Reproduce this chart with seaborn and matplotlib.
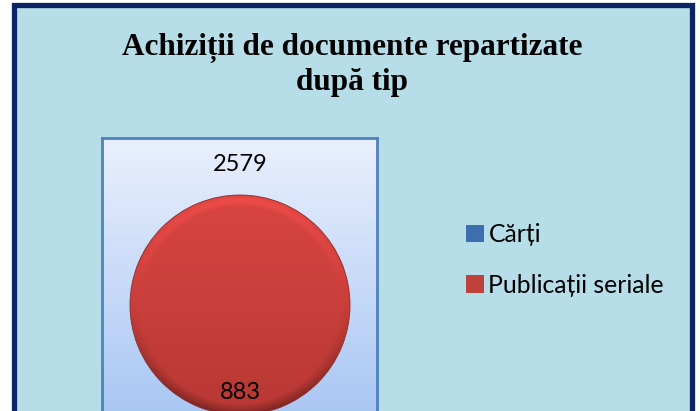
import numpy as np
import matplotlib
matplotlib.use("Agg")
import matplotlib.pyplot as plt
from matplotlib.patches import Rectangle
import seaborn as sns

# ---- data ----
categories = ["Cărți", "Publicații seriale"]
values = [2579, 883]
title = "Achiziții de documente repartizate\ndupă tip"

sns.set_theme(style="white")
plt.rcParams['font.family'] = ['Lato', 'DejaVu Sans']

W, H = 700, 411
fig = plt.figure(figsize=(W / 100, H / 100), dpi=100)
fig.patch.set_facecolor("white")

def px(x0, y0, x1, y1):
    """pixel box (top-left origin) -> figure fraction rect"""
    return [x0 / W, 1 - y1 / H, (x1 - x0) / W, (y1 - y0) / H]

# background frame
bg = fig.add_axes([0, 0, 1, 1])
bg.set_xlim(0, W)
bg.set_ylim(H, 0)
bg.axis("off")
bg.add_patch(Rectangle((13.5, 5.5), 678.5, 430, facecolor="#b7dde8",
                       edgecolor="#0c2466", linewidth=3.8))

fig.text(352 / W, 1 - 65 / H, title, ha="center", va="center",
         family=["Liberation Serif", "DejaVu Serif"], fontweight="bold",
         fontsize=22.5, color="#000000", linespacing=1.2)

# plot area
ax = fig.add_axes(px(102, 138, 377, 430))
AW, AH = 275, 292
grad = np.linspace(0, 1, 256).reshape(-1, 1)
cmap = matplotlib.colors.LinearSegmentedColormap.from_list("pa", ["#e9f0fd", "#a6c4f3"])
ax.imshow(grad, extent=(0, AW, 0, AH), cmap=cmap, aspect="auto", zorder=0,
          origin="upper")

cx, cy, r = 138, 125, 110
# full circle drawn by the only visible series (Publicații seriale)
wedges, _ = ax.pie([values[1]], colors=["#c9403c"], center=(cx, cy), radius=r,
                   startangle=90, frame=True,
                   wedgeprops=dict(edgecolor="#8e2b28", linewidth=0.6))
wedge = wedges[0]

# shaded fill with a soft bevel
n = 400
yy, xx = np.mgrid[1:-1:n * 1j, -1:1:n * 1j]
rho = np.sqrt(xx ** 2 + yy ** 2)
t = (1 - yy) / 2  # 0 top -> 1 bottom
top = np.array([0.85, 0.27, 0.26])
bot = np.array([0.72, 0.22, 0.20])
img = top[None, None, :] * (1 - t[..., None]) + bot[None, None, :] * t[..., None]
edge = np.clip((rho - 0.90) / 0.10, 0, 1)
light = np.where(yy > 0, 1 + 0.10 * yy * np.sin(np.pi * edge),
                 1 + 0.35 * yy * edge)
img = np.clip(img * light[..., None], 0, 1)
im = ax.imshow(img, extent=(cx - r, cx + r, cy - r, cy + r),
               aspect="auto", zorder=2, origin="upper")
im.set_clip_path(wedge)
wedge.set_zorder(3)
wedge.set_facecolor("none")

ax.text(cx, cy + r + 31, str(values[0]), ha="center", va="center",
        fontsize=17, color="#000000", zorder=5)
ax.text(cx, cy - r + 23, str(values[1]), ha="center", va="center",
        fontsize=17, color="#000000", zorder=5)

ax.set_xlim(0, AW)
ax.set_ylim(0, AH)
ax.set_aspect("auto")
ax.set_xticks([])
ax.set_yticks([])
for s in ax.spines.values():
    s.set_color("#4f81bd")
    s.set_linewidth(2)

# legend
handles = [Rectangle((0, 0), 1, 1, facecolor=c, edgecolor="none")
           for c in ["#3d6fb0", "#c0403c"]]
leg = fig.legend(handles, categories, loc="center left",
                 bbox_to_anchor=(444 / W, 1 - 260 / H), frameon=False,
                 fontsize=17.8, handlelength=0.7, handleheight=0.7,
                 handletextpad=0.2, labelspacing=1.1)
for t_ in leg.get_texts():
    t_.set_color("#000000")

fig.savefig("out.png", dpi=100, facecolor=fig.get_facecolor())
